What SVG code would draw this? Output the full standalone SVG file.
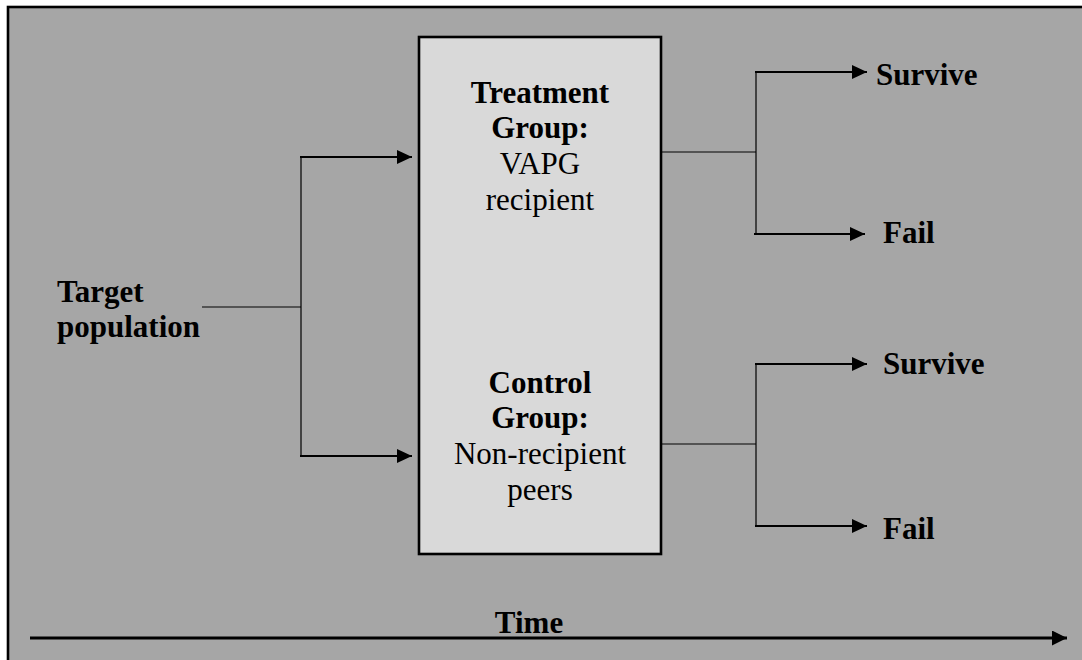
<svg xmlns="http://www.w3.org/2000/svg" width="1082" height="660" viewBox="0 0 1082 660">
<style>
.b{font-family:"Liberation Serif","Times New Roman",serif;font-weight:bold;font-size:31px;fill:#000}
.r{font-family:"Liberation Serif","Times New Roman",serif;font-size:31px;fill:#000}
.thin{stroke:#000;stroke-width:1.2;fill:none}
.arr{stroke:#000;stroke-width:2.2;fill:none;marker-end:url(#ah)}
</style>
<defs>
<marker id="ah" markerUnits="userSpaceOnUse" markerWidth="16" markerHeight="16" refX="15" refY="7" orient="auto">
<path d="M0,0 L15,7 L0,14 Z" fill="#000"/>
</marker>
<marker id="ah2" markerUnits="userSpaceOnUse" markerWidth="16" markerHeight="16" refX="15" refY="7.5" orient="auto">
<path d="M0,0 L15,7.5 L0,15 Z" fill="#000"/>
</marker>
</defs>
<rect width="1082" height="660" fill="#fff"/>
<rect id="frame" x="8" y="7" width="1100" height="700" fill="#a6a6a6" stroke="#000" stroke-width="2.6"/>
<g id="groups">
<rect x="419" y="37" width="242" height="517" fill="#d9d9d9" stroke="#000" stroke-width="2.6"/>
<text class="b" x="540" y="103" text-anchor="middle">Treatment</text>
<text class="b" x="540" y="138" text-anchor="middle">Group:</text>
<text class="r" x="540" y="174" text-anchor="middle">VAPG</text>
<text class="r" x="540" y="210" text-anchor="middle">recipient</text>
<text class="b" x="540" y="393" text-anchor="middle">Control</text>
<text class="b" x="540" y="428" text-anchor="middle">Group:</text>
<text class="r" x="540" y="464" text-anchor="middle">Non-recipient</text>
<text class="r" x="540" y="500" text-anchor="middle">peers</text>
</g>
<g id="target"><text class="b" x="57" y="302">Target</text><text class="b" x="57" y="337">population</text></g>
<g id="survive1"><text class="b" x="876" y="85">Survive</text></g>
<g id="fail1"><text class="b" x="883" y="243">Fail</text></g>
<g id="survive2"><text class="b" x="883" y="374">Survive</text></g>
<g id="fail2"><text class="b" x="883" y="539">Fail</text></g>
<g id="time"><text class="b" x="529" y="633" text-anchor="middle">Time</text></g>
<g id="connectors">
<path class="thin" d="M202,307 H301 M301,157 V456"/>
<path class="arr" d="M300,157 H412"/>
<path class="arr" d="M300,456 H412"/>
<path class="thin" d="M661,152 H756 M756,72 V234"/>
<path class="arr" d="M755,72 H867"/>
<path class="arr" d="M754,234 H865"/>
<path class="thin" d="M661,444 H756 M756,364 V526"/>
<path class="arr" d="M755,364 H867"/>
<path class="arr" d="M755,526 H867"/>
<path d="M30,638 H1067" stroke="#000" stroke-width="2.8" fill="none" marker-end="url(#ah2)"/>
</g>
</svg>
